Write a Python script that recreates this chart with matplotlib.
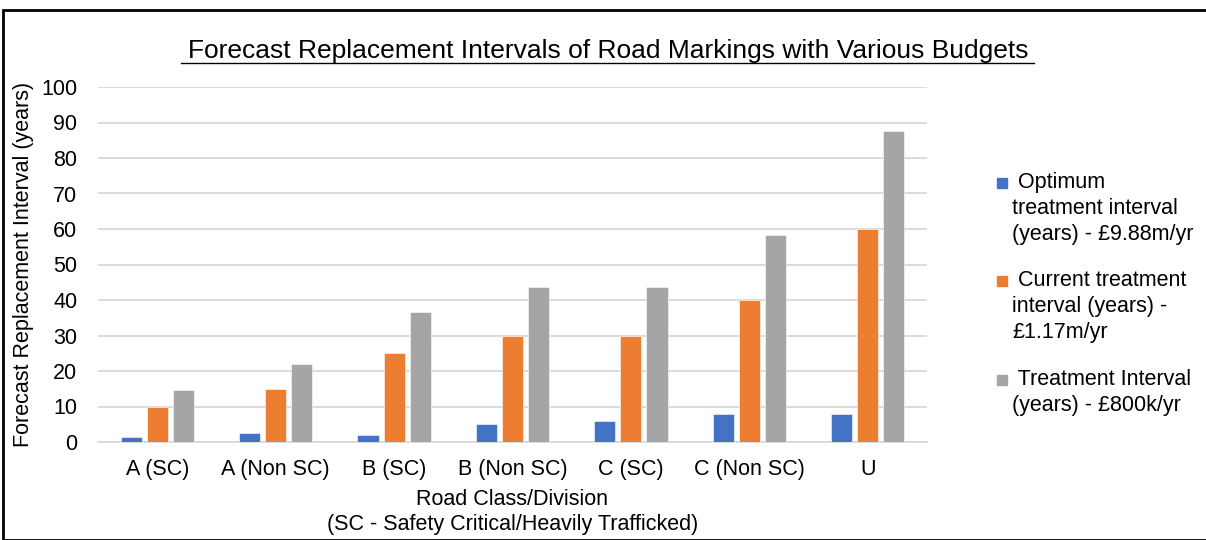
import matplotlib
matplotlib.use("Agg")
import matplotlib.pyplot as plt
import numpy as np
from matplotlib.patches import Rectangle

categories = ["A (SC)", "A (Non SC)", "B (SC)", "B (Non SC)", "C (SC)", "C (Non SC)", "U"]
optimum = [1.5, 2.5, 2.0, 5.0, 6.0, 8.0, 8.0]
current = [10, 15, 25, 30, 30, 40, 60]
budget800k = [14.6, 22.0, 36.5, 43.8, 43.8, 58.4, 87.7]
series_labels = [" Optimum\ntreatment interval\n(years) - £9.88m/yr",
                 " Current treatment\ninterval (years) -\n£1.17m/yr",
                 " Treatment Interval\n(years) - £800k/yr"]
colors = ["#4472C4", "#ED7D31", "#A5A5A5"]
yticks = list(range(0, 101, 10))

plt.rcParams['font.family'] = ['Liberation Sans', 'DejaVu Sans']

W, H = 1206, 540
fig = plt.figure(figsize=(W / 100, H / 100), dpi=100)
ax = fig.add_axes([98 / W, 1 - 442 / H, (927 - 98) / W, (442 - 87) / H])

x = np.arange(len(categories))
off = 0.22
bw = 0.178
for i, (vals, c) in enumerate(zip([optimum, current, budget800k], colors)):
    ax.bar(x + (i - 1) * off, vals, width=bw, color=c, edgecolor="white", linewidth=0.4, zorder=3)

ax.set_xlim(-0.5, len(categories) - 0.5)
ax.set_ylim(0, 100)
ax.set_yticks(yticks)
ax.set_xticks(x)
ax.set_xticklabels(categories)
ax.tick_params(axis="both", length=0, labelsize=15.5, colors="#000000")
ax.tick_params(axis="y", pad=15)
ax.tick_params(axis="x", pad=12)
ax.grid(axis="y", color="#D9D9D9", linewidth=1.3, zorder=0)
for s in ["top", "right", "left"]:
    ax.spines[s].set_visible(False)
ax.spines["bottom"].set_color("#D9D9D9")
ax.spines["bottom"].set_linewidth(1.3)

ax.set_ylabel("Forecast Replacement Interval (years)", fontsize=15.5, labelpad=5)
ax.set_xlabel("Road Class/Division\n(SC - Safety Critical/Heavily Trafficked)", fontsize=15.5,
              labelpad=7, linespacing=1.2)

fig.text(608 / W, 1 - 51 / H, "Forecast Replacement Intervals of Road Markings with Various Budgets",
         ha="center", va="center", fontsize=19, color="#000000")
# underline
t_left, t_right = 181, 1034
fig.add_artist(plt.Line2D([t_left / W, t_right / W], [1 - 63 / H, 1 - 63 / H], color="black", lw=1.0))

# legend
first_lines = [183, 281, 380]
for lab, c, yy in zip(series_labels, colors, first_lines):
    fig.add_artist(Rectangle((997 / W, 1 - (yy + 5) / H), 10 / W, 10 / H, color=c,
                             transform=fig.transFigure))
    fig.text(1012 / W, 1 - (yy - 11) / H, lab, ha="left", va="top", fontsize=15.5, linespacing=1.32)

# frame
fig.add_artist(Rectangle((3 / W, 0), 1.0, 1 - 10 / H, fill=False, edgecolor="black", lw=2,
                         transform=fig.transFigure))

fig.savefig("out.png", dpi=100)
